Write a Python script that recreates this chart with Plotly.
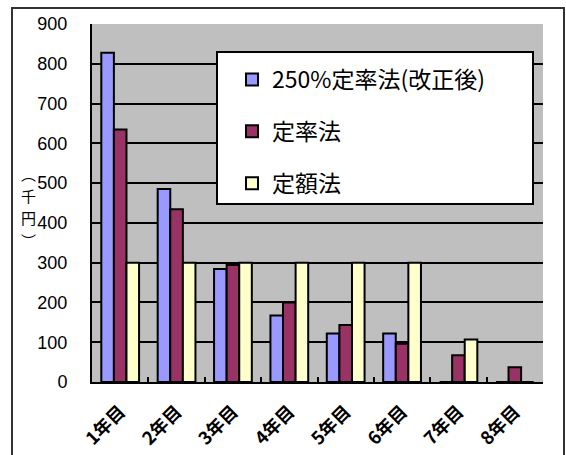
import plotly.graph_objects as go

categories = ["1年目", "2年目", "3年目", "4年目", "5年目", "6年目", "7年目", "8年目"]
series_names = ["250%定率法(改正後)", "定率法", "定額法"]
rate250 = [828, 485, 284, 167, 122, 122, 0, 0]
rate_old = [635, 434, 294, 200, 143, 96, 67, 37]
straight = [300, 300, 300, 300, 300, 300, 107, 0]
colors = ["#9999FF", "#993366", "#FFFFCC"]
y_ticks = [0, 100, 200, 300, 400, 500, 600, 700, 800, 900]
ytitle_chars = ["︵", "千", "円", "︶"]

W, H = 566, 455
ML, MR, MT, MB = 92, 23, 24, 73
PW, PH = W - ML - MR, H - MT - MB

def px(x):
    return (x - ML) / PW

def py(y):
    return (H - MB - y) / PH

CJK = "Noto Sans CJK JP"
LAT = "Liberation Sans, Noto Sans CJK JP"

fig = go.Figure()
for name, vals, col in zip(series_names, [rate250, rate_old, straight], colors):
    fig.add_trace(go.Bar(
        x=categories, y=vals, name=name, legendgroup=name,
        marker=dict(color=col, line=dict(color="black", width=2)),
    ))

fig.update_layout(
    width=W, height=H,
    margin=dict(l=ML, r=MR, t=MT, b=MB, pad=0, autoexpand=False),
    paper_bgcolor="white", plot_bgcolor="#BFBFBF",
    barmode="group", bargap=0.33, bargroupgap=0,
    font=dict(family=LAT, color="black"),
    showlegend=True,
    legend=dict(
        x=px(232), xanchor="left", y=py(58), yanchor="top",
        bgcolor="rgba(0,0,0,0)", borderwidth=0,
        font=dict(family=CJK, size=23, color="black"),
        traceorder="grouped", tracegroupgap=19, itemwidth=30,
    ),
    xaxis=dict(
        type="category", tickson="boundaries", ticks="inside", ticklen=5,
        tickwidth=2, tickcolor="black", showline=True, linecolor="black",
        linewidth=2, showgrid=False, tickangle=-45, automargin=False,
        tickfont=dict(family=CJK, size=18, weight="bold"),
        ticklabelstandoff=10,
    ),
    yaxis=dict(
        range=[0, 900], tickvals=y_ticks, ticks="", showline=True,
        linecolor="black", linewidth=2, showgrid=True, gridcolor="black",
        gridwidth=1.5, zeroline=False, tickfont=dict(family=LAT, size=18),
        ticklabelstandoff=19, automargin=False,
    ),
    shapes=[
        dict(type="rect", xref="paper", yref="paper",
             x0=px(12), x1=px(564), y0=py(470), y1=py(8),
             line=dict(color="#333333", width=2), fillcolor="rgba(0,0,0,0)"),
        dict(type="rect", xref="paper", yref="paper", layer="above",
             x0=px(217), x1=px(533), y0=py(204), y1=py(52),
             line=dict(color="black", width=2), fillcolor="white"),
    ],
)

for i, ch in enumerate(ytitle_chars):
    fig.add_annotation(
        text=ch, xref="paper", yref="paper", x=px(28), y=py(173 + 22.5 * i),
        showarrow=False, xanchor="center", yanchor="middle",
        font=dict(family=CJK, size=15, color="black"),
    )

fig.write_html("out.html")
